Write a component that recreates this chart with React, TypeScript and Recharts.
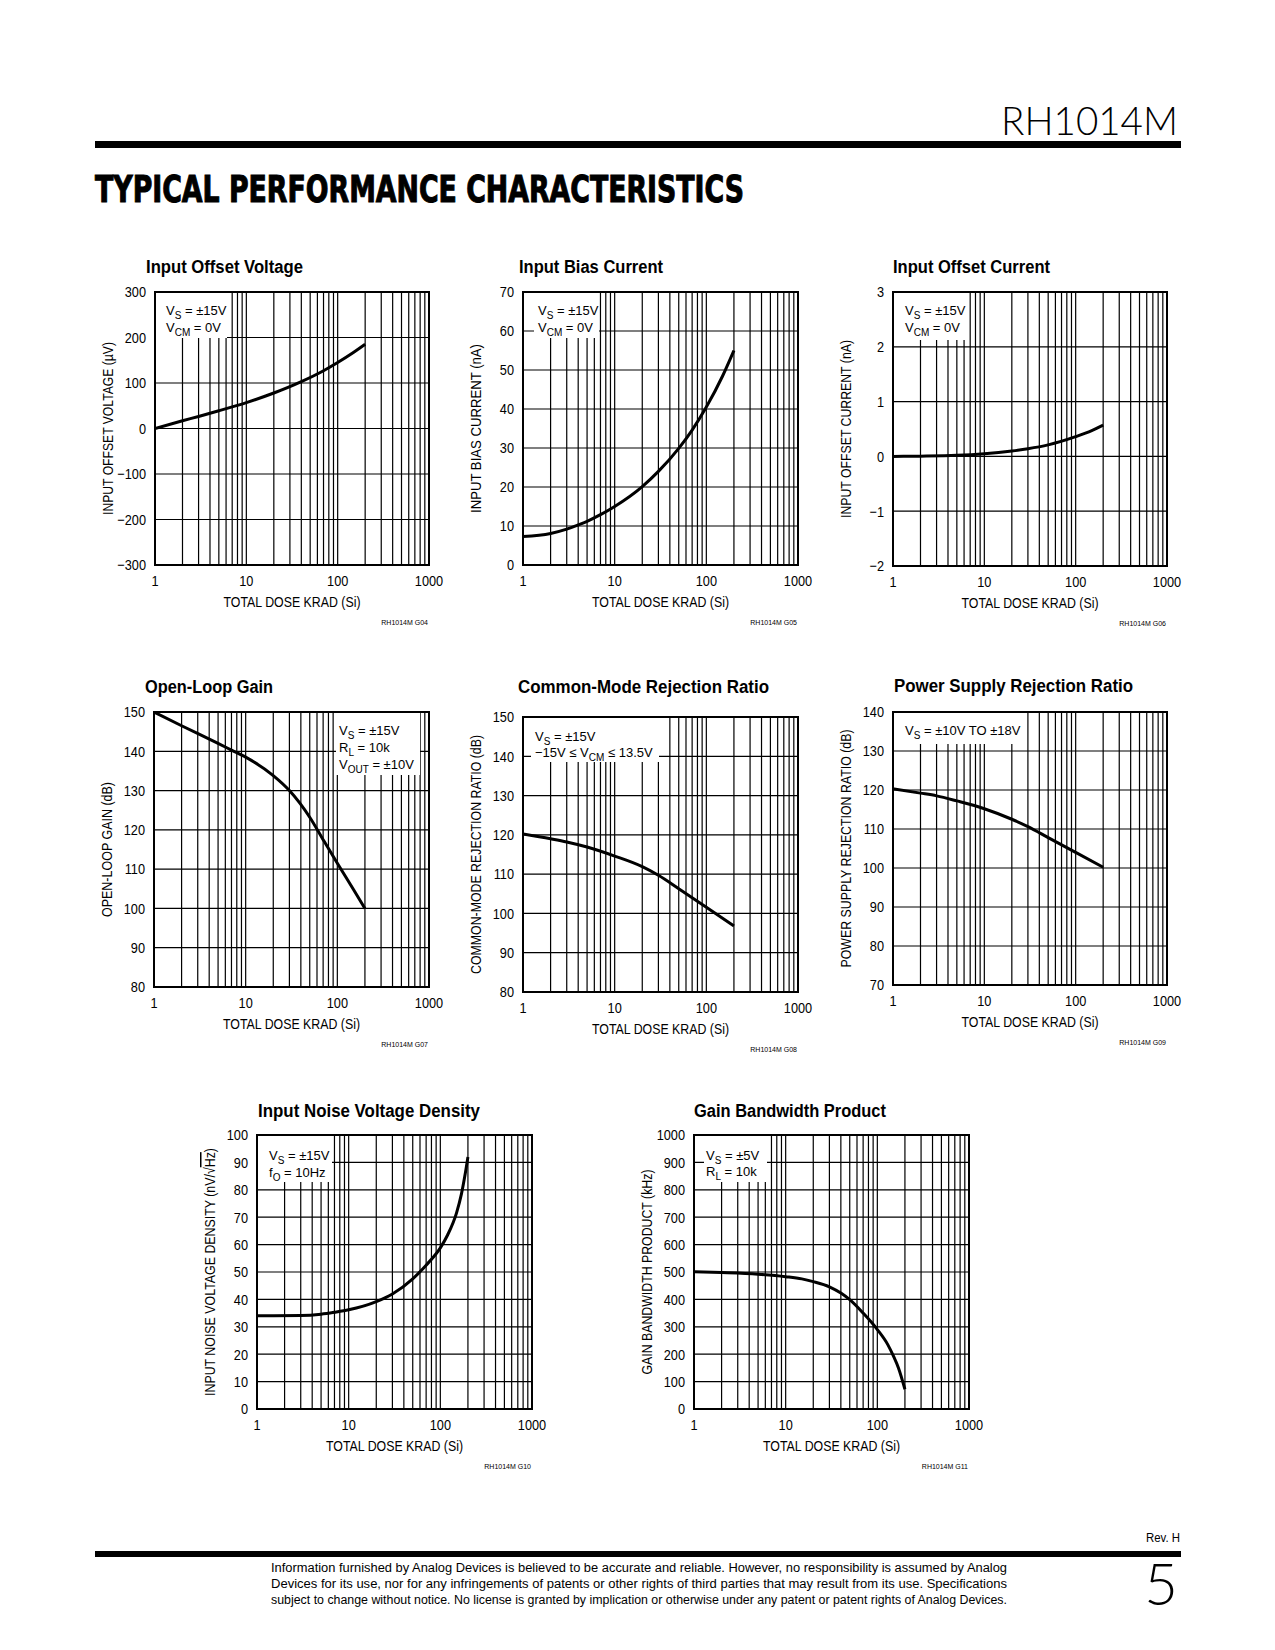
import React from "react"
import { LineChart, Line, XAxis, YAxis, CartesianGrid, Label } from "recharts"

const SANS = "'Liberation Sans', Arial, Helvetica, sans-serif"

// shared x axis: log decades 1..1000 krad, grid at every integer multiple
const GRID_DOSES = [1, 2, 3, 4, 5, 6, 7, 8, 9, 10, 20, 30, 40, 50, 60, 70, 80, 90, 100, 200, 300, 400, 500, 600, 700, 800, 900, 1000]
const DECADE_LABELS = [1, 10, 100, 1000]

// Input Offset Voltage (uV)
const vosDose = [1, 2, 3, 5, 7, 10, 20, 40, 70, 100, 150, 200]
const vosUV = [0, 17, 26.5, 39, 47.5, 57, 78, 103, 127, 145, 167.5, 185]
const vosTicks = [-300, -200, -100, 0, 100, 200, 300]

// Input Bias Current (nA)
const ibDose = [1, 2, 3, 4, 5, 7, 10, 20, 30, 50, 70, 100, 150, 200]
const ibNA = [7.3, 8.1, 9.2, 10.3, 11.2, 12.9, 15, 20.1, 24, 29.9, 34.6, 40.5, 48.4, 55]
const ibTicks = [0, 10, 20, 30, 40, 50, 60, 70]

// Input Offset Current (nA)
const iosDose = [1, 2, 5, 10, 20, 30, 50, 100, 150, 200]
const iosNA = [0, 0.005, 0.02, 0.05, 0.1, 0.14, 0.21, 0.36, 0.47, 0.57]
const iosTicks = [-2, -1, 0, 1, 2, 3]

// Open-Loop Gain (dB)
const olgDose = [1, 2, 5, 7, 10, 20, 30, 50, 70, 100, 150, 200]
const olgDB = [150, 146.5, 142, 140.3, 138.5, 133.8, 130, 123.2, 117.5, 111.5, 104.8, 100]
const olgTicks = [80, 90, 100, 110, 120, 130, 140, 150]

// Common-Mode Rejection Ratio (dB)
const cmrrDose = [1, 2, 3, 5, 10, 20, 30, 50, 100, 200]
const cmrrDB = [120.2, 119, 118.2, 116.9, 114.6, 111.9, 109.7, 106.3, 101.6, 96.8]
const cmrrTicks = [80, 90, 100, 110, 120, 130, 140, 150]

// Power Supply Rejection Ratio (dB)
const psrrDose = [1, 2, 3, 5, 10, 20, 30, 50, 100, 200]
const psrrDB = [120.3, 119.2, 118.5, 117.2, 115.2, 112.5, 110.6, 107.8, 104, 100.2]
const psrrTicks = [70, 80, 90, 100, 110, 120, 130, 140]

// Input Noise Voltage Density (nV/rtHz)
const enDose = [1, 3, 5, 7, 10, 20, 30, 50, 70, 100, 120, 150, 170, 185, 200]
const enNV = [34, 34.1, 34.6, 35.3, 36.2, 39.2, 42, 47.5, 52.5, 58.8, 63.5, 71.5, 78.5, 85, 92]
const enTicks = [0, 10, 20, 30, 40, 50, 60, 70, 80, 90, 100]

// Gain Bandwidth Product (kHz)
const gbwDose = [1, 2, 5, 10, 15, 20, 30, 40, 50, 70, 100, 130, 150, 170, 200]
const gbwKHZ = [501, 498, 492, 483, 475, 465, 446, 423, 399, 350, 290, 235, 193, 150, 72]
const gbwTicks = [0, 100, 200, 300, 400, 500, 600, 700, 800, 900, 1000]

const FOOTER_LINES = [
  "Information furnished by Analog Devices is believed to be accurate and reliable. However, no responsibility is assumed by Analog",
  "Devices for its use, nor for any infringements of patents or other rights of third parties that may result from its use. Specifications",
  "subject to change without notice. No license is granted by implication or otherwise under any patent or patent rights of Analog Devices.",
]

type Seg = { t: string; sub?: boolean }
type Note = { box: [number, number, number, number]; tx: number; lines: { y: number; segs: Seg[] }[] }

type Spec = {
  title: string
  titleX: number
  titleY: number
  titleW: number
  yLabel: React.ReactNode
  yLabelW: number
  plot: [number, number, number, number]
  dose: number[]
  values: number[]
  yTicks: number[]
  code: string
  note: Note
}

const vs15 = (y: number) => ({ y, segs: [{ t: "V" }, { t: "S", sub: true }, { t: " = ±15V" }] })
const vcm0 = (y: number) => ({ y, segs: [{ t: "V" }, { t: "CM", sub: true }, { t: " = 0V" }] })

const CHARTS: Spec[] = [
  {
    title: "Input Offset Voltage", titleX: 146, titleY: 273, titleW: 157,
    yLabel: "INPUT OFFSET VOLTAGE (µV)", yLabelW: 173,
    plot: [155, 292, 274, 273], dose: vosDose, values: vosUV, yTicks: vosTicks, code: "RH1014M G04",
    note: { box: [155, 292, 72, 46], tx: 166, lines: [vs15(315), vcm0(332)] },
  },
  {
    title: "Input Bias Current", titleX: 519, titleY: 273, titleW: 144,
    yLabel: "INPUT BIAS CURRENT (nA)", yLabelW: 169,
    plot: [523, 292, 275, 273], dose: ibDose, values: ibNA, yTicks: ibTicks, code: "RH1014M G05",
    note: { box: [534, 292, 65, 46], tx: 538, lines: [vs15(315), vcm0(332)] },
  },
  {
    title: "Input Offset Current", titleX: 893, titleY: 273, titleW: 157,
    yLabel: "INPUT OFFSET CURRENT (nA)", yLabelW: 178,
    plot: [893, 292, 274, 274], dose: iosDose, values: iosNA, yTicks: iosTicks, code: "RH1014M G06",
    note: { box: [893, 292, 72, 48], tx: 905, lines: [vs15(315), vcm0(332)] },
  },
  {
    title: "Open-Loop Gain", titleX: 145, titleY: 693, titleW: 128,
    yLabel: "OPEN-LOOP GAIN (dB)", yLabelW: 135,
    plot: [154, 712, 275, 275], dose: olgDose, values: olgDB, yTicks: olgTicks, code: "RH1014M G07",
    note: {
      box: [336, 712, 84, 63], tx: 339,
      lines: [
        vs15(735),
        { y: 752, segs: [{ t: "R" }, { t: "L", sub: true }, { t: " = 10k" }] },
        { y: 769, segs: [{ t: "V" }, { t: "OUT", sub: true }, { t: " = ±10V" }] },
      ],
    },
  },
  {
    title: "Common-Mode Rejection Ratio", titleX: 518, titleY: 693, titleW: 251,
    yLabel: "COMMON-MODE REJECTION RATIO (dB)", yLabelW: 239,
    plot: [523, 717, 275, 275], dose: cmrrDose, values: cmrrDB, yTicks: cmrrTicks, code: "RH1014M G08",
    note: {
      box: [531, 717, 128, 45], tx: 535,
      lines: [vs15(741), { y: 757, segs: [{ t: "−15V ≤ V" }, { t: "CM", sub: true }, { t: " ≤ 13.5V" }] }],
    },
  },
  {
    title: "Power Supply Rejection Ratio", titleX: 894, titleY: 692, titleW: 239,
    yLabel: "POWER SUPPLY REJECTION RATIO (dB)", yLabelW: 238,
    plot: [893, 712, 274, 273], dose: psrrDose, values: psrrDB, yTicks: psrrTicks, code: "RH1014M G09",
    note: {
      box: [893, 712, 127, 32], tx: 905,
      lines: [{ y: 735, segs: [{ t: "V" }, { t: "S", sub: true }, { t: " = ±10V TO ±18V" }] }],
    },
  },
  {
    title: "Input Noise Voltage Density", titleX: 258, titleY: 1117, titleW: 222,
    yLabel: (
      <>
        INPUT NOISE VOLTAGE DENSITY (nV/√<tspan style={{ textDecoration: "overline" }}>Hz</tspan>)
      </>
    ),
    yLabelW: 248,
    plot: [257, 1135, 275, 274], dose: enDose, values: enNV, yTicks: enTicks, code: "RH1014M G10",
    note: {
      box: [257, 1135, 75, 47], tx: 269,
      lines: [vs15(1160), { y: 1177, segs: [{ t: "f" }, { t: "O", sub: true }, { t: " = 10Hz" }] }],
    },
  },
  {
    title: "Gain Bandwidth Product", titleX: 694, titleY: 1117, titleW: 192,
    yLabel: "GAIN BANDWIDTH PRODUCT (kHz)", yLabelW: 205,
    plot: [694, 1135, 275, 274], dose: gbwDose, values: gbwKHZ, yTicks: gbwTicks, code: "RH1014M G11",
    note: {
      box: [704, 1135, 63, 47], tx: 706,
      lines: [
        { y: 1160, segs: [{ t: "V" }, { t: "S", sub: true }, { t: " = ±5V" }] },
        { y: 1176, segs: [{ t: "R" }, { t: "L", sub: true }, { t: " = 10k" }] },
      ],
    },
  },
]

const ML = 90
const MT = 40

const fmtY = (v: number) => (v < 0 ? "−" + Math.abs(v) : String(v))

function NoteText({ segs, x, y }: { segs: Seg[]; x: number; y: number }) {
  const out: React.ReactNode[] = []
  let down = false
  segs.forEach((s, i) => {
    if (s.sub) {
      out.push(<tspan key={i} dy={3.5} fontSize={10}>{s.t}</tspan>)
      down = true
    } else {
      out.push(<tspan key={i} dy={down ? -3.5 : 0}>{s.t}</tspan>)
      down = false
    }
  })
  return (
    <text x={x} y={y} fontSize={13} fontFamily={SANS} fill="#000">
      {out}
    </text>
  )
}

// condensed tick labels (Helvetica Condensed look)
const XTick = (props: any) => {
  const v = props.payload?.value
  if (!DECADE_LABELS.includes(v)) return null
  return (
    <text transform={`translate(${props.x} ${props.y + 11}) scale(0.85 1)`} textAnchor="middle" fontSize={15} fontFamily={SANS} fill="#000">
      {String(v)}
    </text>
  )
}

const YTick = (props: any) => (
  <text transform={`translate(${props.x} ${props.y + 5.3}) scale(0.85 1)`} textAnchor="end" fontSize={15} fontFamily={SANS} fill="#000">
    {fmtY(props.payload?.value)}
  </text>
)

function DoseChart({ spec }: { spec: Spec }) {
  const [px, py, w, h] = spec.plot
  const W = w + 130
  const H = h + 112
  const ox = px - ML
  const oy = py - MT
  const data = spec.dose.map((d, i) => ({ dose: d, value: spec.values[i] }))
  const yDomain = [spec.yTicks[0], spec.yTicks[spec.yTicks.length - 1]]
  const [bx, by, bw, bh] = spec.note.box
  const ycx = ML - 47
  const ycy = MT + h / 2

  return (
    <div style={{ position: "absolute", left: ox, top: oy, width: W, height: H }}>
      <LineChart width={W} height={H} data={data} margin={{ top: MT, right: 40, bottom: 12, left: 40 }}>
        <CartesianGrid stroke="#000" strokeWidth={1.2} />
        <XAxis
          dataKey="dose"
          type="number"
          scale="log"
          domain={[1, 1000]}
          ticks={GRID_DOSES}
          interval={0}
          allowDataOverflow
          height={60}
          axisLine={false}
          tickLine={false}
          tickSize={0}
          tickMargin={10}
          tick={XTick}
          label={
            <Label
              content={() => (
                <text x={ML + w / 2} y={MT + h + 42} textAnchor="middle" fontSize={15} fontFamily={SANS} fill="#000" textLength={137} lengthAdjust="spacingAndGlyphs">
                  TOTAL DOSE KRAD (Si)
                </text>
              )}
            />
          }
        />
        <YAxis
          type="number"
          domain={yDomain}
          ticks={spec.yTicks}
          interval={0}
          allowDataOverflow
          width={50}
          axisLine={false}
          tickLine={false}
          tickSize={0}
          tickMargin={9}
          tick={YTick}
          label={
            <Label
              content={() => (
                <text
                  x={ycx}
                  y={ycy + 5}
                  transform={`rotate(-90 ${ycx} ${ycy})`}
                  textAnchor="middle"
                  fontSize={15}
                  fontFamily={SANS}
                  fill="#000"
                  textLength={spec.yLabelW}
                  lengthAdjust="spacingAndGlyphs"
                >
                  {spec.yLabel}
                </text>
              )}
            />
          }
        />
        <Line dataKey="value" type="monotone" stroke="#000" strokeWidth={3} dot={false} isAnimationActive={false} />
      </LineChart>
      <svg width={W} height={H} style={{ position: "absolute", left: 0, top: 0, pointerEvents: "none" }}>
        <rect x={bx - ox} y={by - oy} width={bw} height={bh} fill="#fff" />
        <rect x={ML} y={MT} width={w} height={h} fill="none" stroke="#000" strokeWidth={2} />
        {spec.note.lines.map((l, i) => (
          <NoteText key={i} segs={l.segs} x={spec.note.tx - ox} y={l.y - oy} />
        ))}
        <text
          x={spec.titleX - ox}
          y={spec.titleY - oy}
          fontSize={18}
          fontWeight="bold"
          fontFamily={SANS}
          fill="#000"
          textLength={spec.titleW}
          lengthAdjust="spacingAndGlyphs"
        >
          {spec.title}
        </text>
        <text x={ML + w - 1} y={MT + h + 60} textAnchor="end" fontSize={7} fontFamily={SANS} fill="#000">
          {spec.code}
        </text>
      </svg>
    </div>
  )
}

export default function App() {
  return (
    <div style={{ position: "absolute", left: 0, top: 0, width: 1275, height: 1650, background: "#fff" }}>
      <svg width={1275} height={1650} style={{ position: "absolute", left: 0, top: 0 }}>
        <text x={1001} y={135} fontSize={39} fontWeight={300} fontFamily="Lato, 'Liberation Sans', sans-serif" textLength={177} lengthAdjust="spacingAndGlyphs" fill="#000">
          RH1014M
        </text>
        <rect x={95} y={141} width={1086} height={7} fill="#000" />
        <text x={95} y={202} fontSize={37} fontWeight={900} fontFamily="'DejaVu Sans Condensed', 'Liberation Sans', sans-serif" textLength={649} lengthAdjust="spacingAndGlyphs" fill="#000" stroke="#000" strokeWidth={1}>
          TYPICAL PERFORMANCE CHARACTERISTICS
        </text>
        <text x={1180} y={1542} textAnchor="end" fontSize={12} fontFamily={SANS} fill="#000" textLength={34} lengthAdjust="spacingAndGlyphs">
          Rev. H
        </text>
        <rect x={95} y={1551} width={1086} height={6} fill="#000" />
        <text x={1178} y={1605} textAnchor="end" fontSize={58} fontWeight={300} fontFamily="Lato, 'Liberation Sans', sans-serif" fill="#000">
          5
        </text>
        {FOOTER_LINES.map((line, i) => (
          <text key={i} x={271} y={1572 + i * 16} fontSize={12.5} fontFamily={SANS} textLength={736} lengthAdjust="spacingAndGlyphs" fill="#000">
            {line}
          </text>
        ))}
      </svg>
      {CHARTS.map((c) => (
        <DoseChart key={c.code} spec={c} />
      ))}
    </div>
  )
}
